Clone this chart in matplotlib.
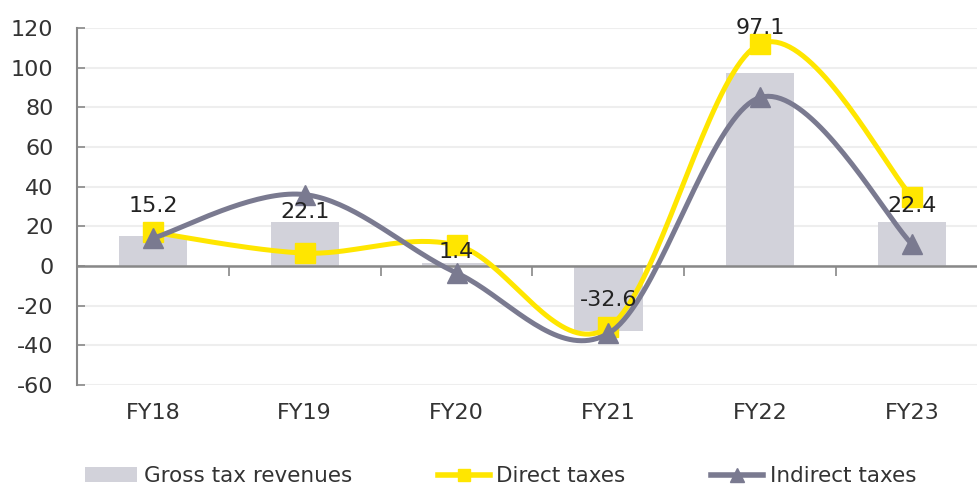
import numpy as np
import matplotlib
matplotlib.use("Agg")
import matplotlib.pyplot as plt
from matplotlib.lines import Line2D
from matplotlib.patches import Patch

years = ["FY18", "FY19", "FY20", "FY21", "FY22", "FY23"]
gross = [15.2, 22.1, 1.4, -32.6, 97.1, 22.4]
direct = [17.0, 6.5, 10.5, -31.0, 112.0, 35.0]
indirect = [14.0, 36.0, -3.5, -34.0, 85.0, 11.0]

YELLOW = "#FFE600"
GREY = "#7A7A90"
BAR = "#D2D2DA"
TEXT = "#333333"

plt.rcParams["axes.unicode_minus"] = False


def smooth(xs, ys, n=40):
    # catmull-rom style curve through the points, like Excel smoothed lines
    p = np.column_stack([xs, ys]).astype(float)
    p = np.vstack([p[0], p, p[-1]])
    out = []
    for i in range(1, len(p) - 2):
        b0 = p[i]
        b3 = p[i + 1]
        b1 = b0 + (p[i + 1] - p[i - 1]) / 6
        b2 = b3 - (p[i + 2] - p[i]) / 6
        t = np.linspace(0, 1, n)[:, None]
        seg = ((1 - t) ** 3) * b0 + 3 * ((1 - t) ** 2) * t * b1 + 3 * (1 - t) * t ** 2 * b2 + t ** 3 * b3
        out.append(seg)
    c = np.vstack(out)
    return c[:, 0], c[:, 1]


fig = plt.figure(figsize=(9.78, 4.87), dpi=100)
ax = fig.add_axes([77 / 978, 102 / 487, 911 / 978, 357 / 487])

x = np.arange(len(years))
ax.bar(x, gross, width=0.45, color=BAR, zorder=2)

sx, sy = smooth(x, direct)
ax.plot(sx, sy, color=YELLOW, lw=3.6, zorder=3, solid_capstyle="round")
ax.plot(x, direct, ls="none", marker="s", ms=14, color=YELLOW, zorder=4)

sx, sy = smooth(x, indirect)
ax.plot(sx, sy, color=GREY, lw=3.6, zorder=5, solid_capstyle="round")
ax.plot(x, indirect, ls="none", marker="^", ms=14, color=GREY, zorder=6)

# data labels for gross tax revenues
label_y = [30.5, 27.0, 7.0, -17.0, 120.0, 30.5]
for xi, v, ly in zip(x, gross, label_y):
    ax.text(xi, ly, f"{v:.1f}", ha="center", va="center", fontsize=16,
            color="#222222", zorder=7)

ax.set_xlim(-0.5, 5.5)
ax.set_ylim(-60, 120)
ax.set_yticks(np.arange(-60, 121, 20))
ax.tick_params(axis="y", labelsize=16, labelcolor=TEXT, color="#888888",
               direction="in", length=5.5, width=1.2, pad=17)
ax.grid(axis="y", color="#EEEEEE", lw=1.5, zorder=0)
ax.set_axisbelow(True)

for side in ["top", "right"]:
    ax.spines[side].set_visible(False)
ax.spines["left"].set_color("#888888")
ax.spines["left"].set_linewidth(1.5)
ax.spines["bottom"].set_position(("data", 0))
ax.spines["bottom"].set_color("#888888")
ax.spines["bottom"].set_linewidth(1.8)
ax.spines["bottom"].set_zorder(2.5)

ax.set_xticks(np.arange(0.5, 5, 1.0))
ax.set_xticklabels([])
ax.tick_params(axis="x", length=7, width=1.2, color="#888888")

sec = ax.secondary_xaxis(0)
sec.set_xticks(x)
sec.set_xticklabels(years)
sec.tick_params(length=0, labelsize=16, labelcolor=TEXT, pad=13)
sec.spines["bottom"].set_visible(False)

handles = [
    Patch(facecolor=BAR, edgecolor="none"),
    Line2D([], [], color=YELLOW, lw=4, marker="s", ms=9),
    Line2D([], [], color=GREY, lw=4, marker="^", ms=10),
]
fig.legend(handles, ["Gross tax revenues", "Direct taxes", "Indirect taxes"],
           loc="center", bbox_to_anchor=(0.512, 0.022), ncol=3,
           frameon=False, fontsize=15.5, labelcolor=TEXT, handlelength=2.4,
           handletextpad=0.3, columnspacing=4.0)

fig.savefig("out.png", dpi=100)
